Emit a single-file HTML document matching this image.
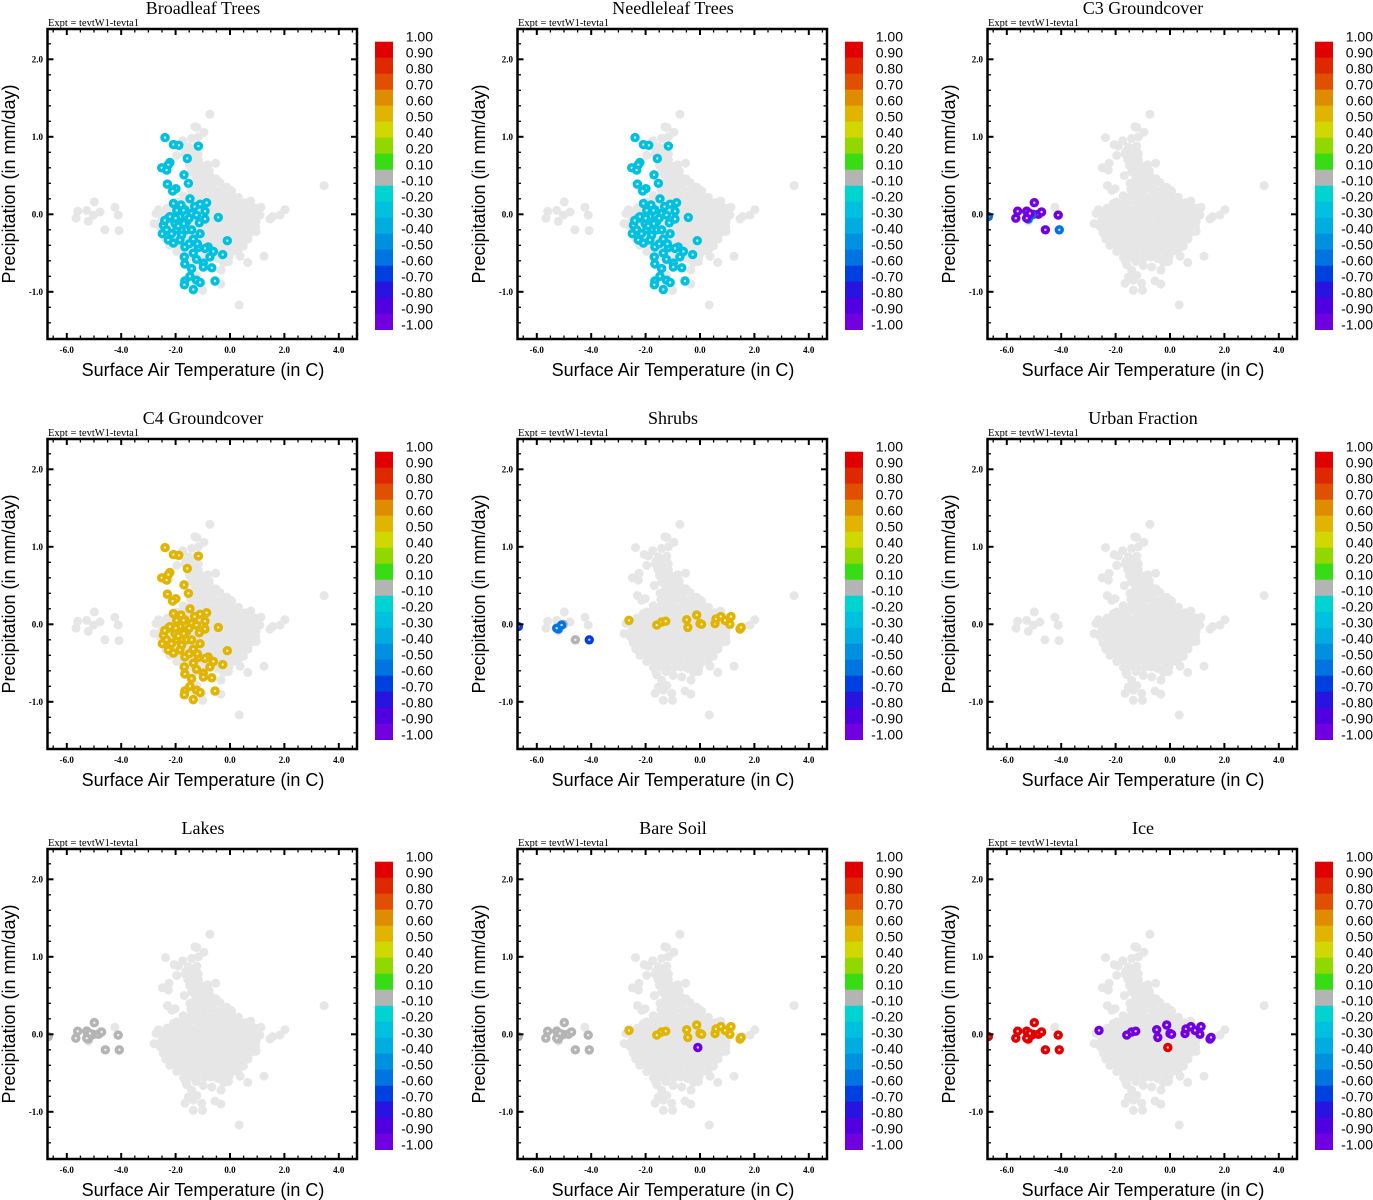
<!DOCTYPE html>
<html><head><meta charset="utf-8"><style>
html,body{margin:0;padding:0;background:#fff;}
svg{display:block;}
</style></head><body>
<svg id="fig" width="1373" height="1200" viewBox="0 0 1373 1200" xmlns="http://www.w3.org/2000/svg"></svg>
<script>
// ---------- data ----------
const panelTitles = ["Broadleaf Trees","Needleleaf Trees","C3 Groundcover","C4 Groundcover","Shrubs","Urban Fraction","Lakes","Bare Soil","Ice"];
const xTicks = [-6,-4,-2,0,2,4];
const xTickLabels = ["-6.0","-4.0","-2.0","0.0","2.0","4.0"];
const yTicks = [2,1,0,-1];
const yTickLabels = ["2.0","1.0","0.0","-1.0"];
const cbarLabels = ["1.00","0.90","0.80","0.70","0.60","0.50","0.40","0.20","0.10","-0.10","-0.20","-0.30","-0.40","-0.50","-0.60","-0.70","-0.80","-0.90","-1.00"];
const cbarEdges = [1.0,0.9,0.8,0.7,0.6,0.5,0.4,0.2,0.1,-0.1,-0.2,-0.3,-0.4,-0.5,-0.6,-0.7,-0.8,-0.9,-1.0];
const cbarColors = ["#e00000","#e02800","#e05000","#e08c00","#e0b400","#d0d800","#90d800","#38dc14","#b4b4b4","#00d4d0","#00c0e0","#00ace0","#0090e0","#0074e0","#0040e0","#2814e0","#5000e0","#7000e0"];

// background (all grid points) - temperature, precipitation pairs
const grayPts = [
[-0.74,1.29],[-1.29,1.13],[-1.22,1.12],[-0.96,1.06],[-2.37,0.99],[-2.05,0.90],[-1.74,0.95],[-1.90,0.88],[-1.41,0.98],[-1.16,1.00],
[-1.53,0.87],[-1.22,0.88],[-1.96,0.76],[-1.65,0.78],[-1.47,0.72],[-1.16,0.78],[-0.53,0.66],[-2.49,0.60],[-2.24,0.66],[-2.27,0.57],
[-1.10,0.61],[-0.86,0.57],[-1.68,0.50],[-2.30,0.37],[-2.02,0.33],[-2.14,0.31],[-1.47,0.40],[-1.47,0.20],[-0.12,0.35],[0.06,0.30],
[3.46,0.37],[-2.08,0.14],
[-5.60,0.04],[-5.27,0.05],[-4.99,0.16],[-4.78,0.03],[-4.23,0.09],[-4.11,-0.01],[-5.66,-0.05],[-5.21,-0.09],[-5.02,-0.01],[-4.60,-0.20],[-4.08,-0.21],
[-2.72,0.01],[-2.63,0.06],[-2.79,-0.12],[-2.33,-0.03],
[1.14,0.09],[1.10,-0.01],[1.47,-0.06],[1.57,-0.03],[2.02,0.06],[1.84,-0.01],[0.92,-0.14],[0.96,-0.22],[0.74,0.12],
[0.37,-0.54],[0.65,-0.62],[1.25,-0.54],
[-1.62,-0.62],[-1.59,-0.65],[-1.25,-0.61],[-1.41,-0.72],[-0.98,-0.66],[-0.67,-0.68],[-0.33,-0.72],[-0.24,-0.62],[-0.06,-0.61],
[-1.65,-0.89],[-1.35,-0.85],[-1.04,-0.89],[-0.55,-0.86],[-0.34,-0.90],[-1.35,-0.98],[-1.01,-0.98],[0.34,-1.17],[-1.22,-0.79],[-1.53,-0.81],
[-1.62,0.81],[-1.38,0.79],[-1.24,0.82],
[-1.55,0.71],[-1.33,0.73],[-1.16,0.70],
[-1.49,0.63],[-1.28,0.65],[-1.04,0.62],[-0.82,0.64],
[-1.41,0.55],[-1.18,0.57],[-0.98,0.54],[-0.76,0.56],
[-1.26,0.48],[-1.01,0.47],[-0.73,0.49],[-0.52,0.46],
[-1.36,0.40],[-1.08,0.41],[-0.86,0.39],[-0.61,0.40],[-0.37,0.41],
[-1.44,0.32],[-1.21,0.31],[-0.94,0.33],[-0.71,0.32],[-0.46,0.30],[-0.22,0.32],[0.02,0.31],
[-1.72,0.24],[-1.44,0.23],[-1.21,0.25],[-0.96,0.24],[-0.69,0.22],[-0.44,0.25],[-0.21,0.23],[0.06,0.24],[0.31,0.22],
[-1.96,0.16],[-1.69,0.15],[-1.46,0.17],[-1.19,0.16],[-0.94,0.15],[-0.71,0.17],[-0.44,0.16],[-0.21,0.15],[0.04,0.17],[0.29,0.16],[0.56,0.15],[0.76,0.17],
[-2.31,0.08],[-2.04,0.07],[-1.81,0.09],[-1.56,0.08],[-1.29,0.07],[-1.06,0.08],[-0.79,0.09],[-0.56,0.07],[-0.31,0.08],[-0.04,0.09],[0.21,0.07],[0.44,0.08],[0.71,0.09],[0.94,0.08],
[-2.46,0.00],[-2.19,0.01],[-1.96,-0.01],[-1.69,0.00],[-1.46,0.01],[-1.21,-0.01],[-0.94,0.00],[-0.71,0.01],[-0.46,-0.01],[-0.19,0.00],[0.06,0.01],[0.29,-0.01],[0.56,0.00],[0.79,0.01],[1.01,-0.01],
[-2.51,-0.08],[-2.24,-0.07],[-1.99,-0.09],[-1.74,-0.08],[-1.49,-0.07],[-1.24,-0.09],[-0.99,-0.08],[-0.74,-0.07],[-0.49,-0.09],[-0.24,-0.08],[0.01,-0.07],[0.26,-0.09],[0.51,-0.08],[0.76,-0.07],[0.96,-0.09],
[-2.56,-0.16],[-2.29,-0.15],[-2.04,-0.17],[-1.79,-0.16],[-1.54,-0.15],[-1.29,-0.17],[-1.04,-0.16],[-0.79,-0.15],[-0.54,-0.17],[-0.29,-0.16],[-0.04,-0.15],[0.21,-0.17],[0.46,-0.16],[0.71,-0.15],[0.94,-0.16],
[-2.46,-0.24],[-2.21,-0.23],[-1.96,-0.25],[-1.71,-0.24],[-1.46,-0.23],[-1.21,-0.25],[-0.96,-0.24],[-0.71,-0.23],[-0.46,-0.25],[-0.21,-0.24],[0.04,-0.23],[0.29,-0.25],[0.54,-0.24],[0.79,-0.23],
[-2.36,-0.32],[-2.11,-0.31],[-1.86,-0.33],[-1.61,-0.32],[-1.36,-0.31],[-1.11,-0.33],[-0.86,-0.32],[-0.61,-0.31],[-0.36,-0.33],[-0.11,-0.32],[0.14,-0.31],[0.39,-0.33],[0.66,-0.32],
[-2.21,-0.40],[-1.96,-0.39],[-1.71,-0.41],[-1.46,-0.40],[-1.21,-0.39],[-0.96,-0.41],[-0.71,-0.40],[-0.46,-0.39],[-0.21,-0.41],[0.04,-0.40],[0.29,-0.39],[0.49,-0.41],
[-1.96,-0.48],[-1.71,-0.47],[-1.46,-0.49],[-1.21,-0.48],[-0.96,-0.47],[-0.71,-0.49],[-0.46,-0.48],[-0.21,-0.47],[0.04,-0.49],[0.29,-0.48],
[-1.71,-0.56],[-1.46,-0.55],[-1.21,-0.57],[-0.96,-0.56],[-0.71,-0.55],[-0.46,-0.57],[-0.21,-0.56],[-0.04,-0.55]
];

// forest-region points (used in Broadleaf, Needleleaf, C4 panels)
const treePts = [
[-2.39,0.99],[-2.08,0.90],[-1.88,0.89],[-1.16,0.88],[-1.57,0.72],[-2.21,0.67],[-2.27,0.64],[-2.51,0.60],[-2.33,0.57],[-1.69,0.51],
[-1.53,0.40],[-2.30,0.39],[-1.99,0.33],[-2.11,0.30],[-1.47,0.20],[-2.08,0.14],[-0.86,0.15],[-1.10,0.13],[-1.66,0.06],[-1.96,0.05],
[-0.92,0.04],[-1.41,0.01],[-1.23,-0.01],[-2.27,-0.05],[-1.84,-0.03],[-0.43,-0.04],[-0.92,-0.06],[-2.45,-0.14],[-2.02,-0.12],[-1.59,-0.09],
[-1.13,-0.11],[-2.49,-0.25],[-2.27,-0.33],[-1.78,-0.27],[-1.35,-0.32],[-2.08,-0.37],[-0.10,-0.34],[-1.66,-0.42],[-1.16,-0.43],[-0.80,-0.42],
[-0.61,-0.48],[-0.27,-0.52],[-1.68,-0.55],[-1.23,-0.58],[-0.74,-0.55],[-0.98,-0.63],[-1.66,-0.64],[-1.41,-0.70],[-0.67,-0.69],[-0.98,-0.68],
[-1.47,-0.80],[-1.23,-0.85],[-1.66,-0.86],[-0.55,-0.86],[-1.10,-0.88],[-1.68,-0.91],[-1.35,-0.97],
[-2.21,-0.03],[-1.71,0.05],[-1.59,-0.20],[-1.96,-0.20],[-1.41,-0.20],[-1.84,-0.33],[-2.33,-0.20],[-1.35,-0.50],[-0.92,-0.44],
[-1.10,-0.25],[-2.00,-0.05],[-1.50,-0.05],[-1.90,-0.15],[-2.15,-0.25],[-1.70,-0.12],[-1.20,-0.38],[-1.50,-0.38],[-2.40,-0.08],[-1.80,0.12],[-1.30,0.10]
];
// cold-region points (left cluster)
const leftPts = [[-6.68,-0.03],[-5.60,0.04],[-5.67,-0.05],[-5.27,0.04],[-4.99,0.15],[-5.03,0.00],[-4.84,0.00],[-4.72,0.03],[-4.11,-0.01],[-4.58,-0.20],[-5.21,-0.06],[-5.09,-0.01],[-4.07,-0.20],[-4.23,0.09],[-5.15,0.01],[-5.27,-0.05]];
// row of points near zero precipitation (right side)
const rightPts = [[-2.61,0.05],[-1.59,-0.01],[-1.41,0.03],[-1.26,0.04],[-0.49,0.06],[-0.45,-0.04],[-0.12,0.12],[0.00,0.01],[0.06,0.00],[0.55,0.01],[0.59,0.07],[0.77,0.10],[0.92,0.05],[1.14,0.10],[1.10,0.00],[1.47,-0.06],[1.51,-0.04]];
const soloPt = [[-0.08,-0.17]];

// correlation values per panel (null = not shown)
const c3LeftVals    = [-0.55,-0.95,-0.95,-0.95,-0.95,-0.95,-0.95,-0.95,-0.95,-0.95,-0.55,-0.55,-0.55,null,-0.95,-0.95];
const shrubLeftVals = [-0.65,null,null,null,null,0,null,null,null,0,-0.55,-0.55,-0.65,null,null,-0.55];
const lakeLeftVals  = [0,0,0,0,0,0,0,0,0,0,0,0,0,null,0,0];
const bareLeftVals  = [0,0,0,0,0,0,0,0,0,0,0,0,0,null,0,0];
const iceLeftVals   = [0.95,0.95,0.95,0.95,0.95,0.95,0.95,0.95,0.95,0.95,0.95,0.95,0.95,null,0.95,0.95];
const treeVal = -0.25, c4Val = 0.55, shrubRightVal = 0.55, bareRightVal = 0.55, bareSoloVal = -0.95, iceRightVal = -0.95, iceSoloVal = 0.95;

// ---------- drawing ----------
const NS = "http://www.w3.org/2000/svg";
const fig = document.getElementById('fig');
function mk(tag, attrs, parent){ const e=document.createElementNS(NS,tag); for(const k in attrs) e.setAttribute(k,attrs[k]); (parent||fig).appendChild(e); return e; }
const PL=47.5, PR=357, PT=29, PB=339;
function sx(x){ return 230 + 27.2*x; }
function sy(y){ return 214.3 - 77.5*y; }
function colorFor(v){
  for(let i=0;i<cbarColors.length;i++){ if(v<=cbarEdges[i] && v>=cbarEdges[i+1]) return cbarColors[i]; }
  return "#b4b4b4";
}

function overlay(g, pts, vals){
  pts.forEach((p,i)=>{
    const v = Array.isArray(vals) ? vals[i] : vals;
    if(v===null || v===undefined) return;
    const col = colorFor(v);
    const c = mk('circle',{cx:sx(p[0]).toFixed(1),cy:sy(p[1]).toFixed(1),r:4.7,fill:col},g);
    
    
    mk('circle',{cx:sx(p[0]).toFixed(1),cy:sy(p[1]).toFixed(1),r:1.2,fill:'#ffffff','fill-opacity':0.8},g);
  });
}

const overlays = [
  g=>overlay(g,treePts,treeVal),
  g=>overlay(g,treePts,treeVal),
  g=>overlay(g,leftPts,c3LeftVals),
  g=>overlay(g,treePts,c4Val),
  g=>{overlay(g,leftPts,shrubLeftVals); overlay(g,rightPts,shrubRightVal);},
  g=>{},
  g=>overlay(g,leftPts,lakeLeftVals),
  g=>{overlay(g,leftPts,bareLeftVals); overlay(g,rightPts,bareRightVal); overlay(g,soloPt,bareSoloVal);},
  g=>{overlay(g,leftPts,iceLeftVals); overlay(g,rightPts,iceRightVal); overlay(g,soloPt,iceSoloVal);}
];

panelTitles.forEach((title,idx)=>{
  const ox = (idx%3)*470, oy = Math.floor(idx/3)*410;
  const g = mk('g',{transform:`translate(${ox},${oy})`});
  
  

  const t = mk('text',{x:203,y:14,'text-anchor':'middle','font-family':'"Liberation Serif",serif','font-size':18,fill:'#000'},g);
  t.textContent = title;
  
  
  const ex = mk('text',{x:48,y:26,'font-family':'"Liberation Serif",serif','font-size':10.5,fill:'#000'},g);
  ex.textContent = "Expt = tevtW1-tevta1";
  
  

  const cid='clip'+idx;
  const cp = mk('clipPath',{id:cid},g);
  mk('rect',{x:PL,y:PT,width:PR-PL,height:PB-PT},cp);
  const pg = mk('g',{'clip-path':`url(#${cid})`},g);
  
  
  grayPts.forEach(p=>{
    const c = mk('circle',{cx:sx(p[0]).toFixed(1),cy:sy(p[1]).toFixed(1),r:4.5,fill:'#e6e6e6'},pg);
    
    
  });
  overlays[idx](pg);

  const tk = mk('g',{stroke:'#000'},g);
  
  
  for(let x=-6.5;x<=4.6;x+=0.5){
    const X=sx(x); if(X<PL+1||X>PR-1) continue;
    const major = Math.abs(x%2)<0.01;
    const L = major?6:3.5, w = major?2:1.3;
    mk('line',{x1:X,y1:PB,x2:X,y2:PB-L,'stroke-width':w},tk);
    mk('line',{x1:X,y1:PT,x2:X,y2:PT+L,'stroke-width':w},tk);
  }
  for(let k=-8;k<=12;k++){
    const y=k*0.2, Y=sy(y); if(Y<PT+1||Y>PB-1) continue;
    const major = k%5===0;
    const L = major?6:3.5, w = major?2:1.3;
    mk('line',{x1:PL,y1:Y,x2:PL+L,y2:Y,'stroke-width':w},tk);
    mk('line',{x1:PR,y1:Y,x2:PR-L,y2:Y,'stroke-width':w},tk);
  }
  const fr = mk('rect',{x:PL,y:PT,width:PR-PL,height:PB-PT,fill:'none',stroke:'#000','stroke-width':2.5},g);
  
  

  xTicks.forEach((v,i)=>{
    const tl = mk('text',{x:sx(v),y:353,'text-anchor':'middle','font-family':'"Liberation Serif",serif','font-size':9,'font-weight':'bold',fill:'#000'},g);
    tl.textContent = xTickLabels[i];
    
    
  });
  yTicks.forEach((v,i)=>{
    const tl = mk('text',{x:43,y:sy(v)+3,'text-anchor':'end','font-family':'"Liberation Serif",serif','font-size':9,'font-weight':'bold',fill:'#000'},g);
    tl.textContent = yTickLabels[i];
    
    
  });
  const xl = mk('text',{x:203,y:376,'text-anchor':'middle','font-family':'"Liberation Sans",sans-serif','font-size':18,fill:'#000'},g);
  xl.textContent = "Surface Air Temperature (in C)";
  
  
  const yl = mk('text',{x:0,y:0,transform:'translate(15,184) rotate(-90)','text-anchor':'middle','font-family':'"Liberation Sans",sans-serif','font-size':18,fill:'#000'},g);
  yl.textContent = "Precipitation (in mm/day)";
  
  

  const cb = mk('g',{},g);
  
  
  cbarColors.forEach((c,i)=>{
    const r = mk('rect',{x:375,y:(41.7+16*i).toFixed(1),width:18,height:16.3,fill:c},cb);
    
    
  });
  cbarLabels.forEach((s,i)=>{
    const tl = mk('text',{x:433,y:(41.7+16*i).toFixed(1),'text-anchor':'end','font-family':'"Liberation Sans",sans-serif','font-size':14,fill:'#000'},cb);
    tl.textContent = s;
    
    
  });
});
</script>
</body></html>
